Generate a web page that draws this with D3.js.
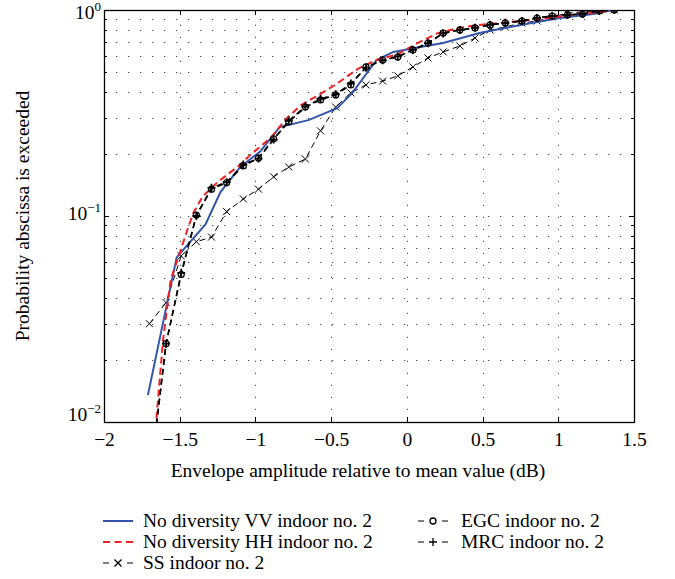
<!DOCTYPE html>
<html><head><meta charset="utf-8">
<script src="https://cdn.jsdelivr.net/npm/d3@7"></script>
<style>
body{margin:0;background:#fff}
text{font-family:"Liberation Serif","Times New Roman",serif;fill:#000}
</style>
</head><body>
<svg id="c" width="675" height="579"></svg>
<script>
// ---- data ----
const ampGrid = [-1.70,-1.59,-1.49,-1.39,-1.29,-1.19,-1.08,-0.98,-0.88,-0.78,-0.67,-0.57,-0.47,-0.37,-0.27,-0.16,-0.06,0.04,0.14,0.24,0.35,0.45,0.55,0.65,0.76,0.86,0.96,1.06,1.16,1.27,1.37];
const probSS  = [0.030,0.038,0.064,0.075,0.079,0.105,0.121,0.135,0.155,0.173,0.189,0.259,0.338,0.396,0.433,0.452,0.479,0.529,0.585,0.626,0.669,0.731,0.800,0.827,0.865,0.884,0.925,0.967,0.978,0.995,1.0];
const probEGC = [0.005,0.024,0.052,0.101,0.135,0.145,0.175,0.191,0.237,0.286,0.338,0.366,0.387,0.433,0.529,0.572,0.591,0.640,0.691,0.773,0.800,0.818,0.846,0.865,0.884,0.914,0.935,0.946,0.956,0.989,1.0];
const probMRC = [0.005,0.024,0.053,0.100,0.137,0.146,0.178,0.190,0.235,0.290,0.340,0.370,0.390,0.440,0.525,0.570,0.595,0.640,0.690,0.770,0.800,0.820,0.848,0.866,0.885,0.915,0.935,0.947,0.957,0.990,1.0];
const ampVV  = [-1.71,-1.52,-1.33,-1.23,-1.10,-0.97,-0.84,-0.65,-0.46,-0.36,-0.20,-0.09,0.09,0.24,0.48,0.75,1.01,1.23,1.36];
const probVV = [0.0135,0.063,0.091,0.131,0.173,0.205,0.270,0.292,0.334,0.396,0.572,0.626,0.661,0.691,0.773,0.846,0.915,0.956,1.0];
const ampHH  = [-1.66,-1.61,-1.56,-1.50,-1.45,-1.41,-1.35,-1.25,-1.12,-1.02,-0.90,-0.80,-0.70,-0.60,-0.48,-0.32,-0.20,-0.06,0.07,0.20,0.33,0.47,0.68,0.88,1.08,1.28,1.37];
const probHH = [0.0092,0.025,0.049,0.066,0.0855,0.1035,0.124,0.146,0.173,0.202,0.239,0.295,0.345,0.380,0.430,0.520,0.572,0.610,0.690,0.770,0.815,0.846,0.874,0.904,0.946,0.978,1.0];
const xTickValues = [-2,-1.5,-1,-0.5,0,0.5,1,1.5];
const xTickLabels = ["−2","−1.5","−1","−0.5","0","0.5","1","1.5"];
const yTickValues = [1,0.1,0.01];
const yTickExponents = ["0","−1","−2"];
const seriesNames = ["No diversity VV indoor no. 2","No diversity HH indoor no. 2","SS indoor no. 2","EGC indoor no. 2","MRC indoor no. 2"];
const xTitle = "Envelope amplitude relative to mean value (dB)";
const yTitle = "Probability abscissa is exceeded";

// ---- layout ----
const L=104, R=634, T=10, B=422;
const FS = "19.5px";
const svg = d3.select("#c");
const x = d3.scaleLinear().domain([-2,1.5]).range([L,R]);
const y = d3.scaleLog().domain([0.01,1]).range([B,T]);

const minorY = [];
for (let d=-2; d<0; d++) for (let k=1;k<=9;k++) minorY.push(k*Math.pow(10,d));
minorY.push(1);

// grid
const grid = svg.append("g").attr("stroke","#555").attr("stroke-width",1).attr("stroke-dasharray","1.3,10.7");
grid.selectAll(".gy").data(minorY.filter(v=>v>0.01 && v<1)).join("line")
  .attr("x1",L).attr("x2",R).attr("y1",d=>Math.round(y(d))+0.5).attr("y2",d=>Math.round(y(d))+0.5);
grid.selectAll(".gx").data(xTickValues.filter(v=>v>-2&&v<1.5)).join("line")
  .attr("y1",B).attr("y2",T).attr("x1",d=>Math.round(x(d))+0.5).attr("x2",d=>Math.round(x(d))+0.5);

// frame
svg.append("rect").attr("x",L+0.5).attr("y",T+0.5).attr("width",R-L).attr("height",B-T)
  .attr("fill","none").attr("stroke","#000").attr("stroke-width",1.3);

// ticks
const tk = svg.append("g").attr("stroke","#000").attr("stroke-width",1);
xTickValues.forEach(v=>{
  const px = Math.round(x(v))+0.5;
  tk.append("line").attr("x1",px).attr("x2",px).attr("y1",B).attr("y2",B-5);
  tk.append("line").attr("x1",px).attr("x2",px).attr("y1",T).attr("y2",T+5);
});
minorY.forEach(v=>{
  const py = Math.round(y(v))+0.5;
  const major = yTickValues.includes(+v.toPrecision(3));
  const len = major?5:3;
  tk.append("line").attr("x1",L).attr("x2",L+len).attr("y1",py).attr("y2",py);
  tk.append("line").attr("x1",R).attr("x2",R-len).attr("y1",py).attr("y2",py);
});

// x tick labels via axis
const xAxis = d3.axisBottom(x).tickValues(xTickValues).tickFormat((d,i)=>xTickLabels[i]).tickSize(0).tickPadding(7);
const gx = svg.append("g").attr("transform",`translate(0,${B})`).call(xAxis);
gx.select(".domain").remove();
gx.selectAll("text").style("font-family",'"Liberation Serif",serif').style("font-size",FS).attr("dy","0.85em");

// y tick labels
yTickValues.forEach((v,i)=>{
  const base = Math.min(Math.max(y(v)+4, 19), 421);
  const t = svg.append("text").attr("x",L-3).attr("y",base).attr("text-anchor","end").style("font-size",FS);
  t.append("tspan").text("10");
  t.append("tspan").attr("dy","-8").style("font-size","13px").text(yTickExponents[i]);
});

// titles
svg.append("text").attr("x",358).attr("y",477).attr("text-anchor","middle").style("font-size",FS).text(xTitle);
svg.append("text").attr("transform",`translate(29,${(T+B)/2}) rotate(-90)`).attr("text-anchor","middle").style("font-size",FS).text(yTitle);

// clip
svg.append("clipPath").attr("id","clip").append("rect").attr("x",L).attr("y",T).attr("width",R-L).attr("height",B-T);
const plot = svg.append("g").attr("clip-path","url(#clip)");
const line = d3.line().x(d=>x(d[0])).y(d=>y(d[1]));

const zip = (a,b)=>a.map((v,i)=>[v,b[i]]);
const dVV = zip(ampVV,probVV), dHH = zip(ampHH,probHH);
const dSS = zip(ampGrid,probSS), dEGC = zip(ampGrid,probEGC), dMRC = zip(ampGrid,probMRC);

function marker(g, type, cx, cy, sw){
  if(type==="o"){ g.append("circle").attr("cx",cx).attr("cy",cy).attr("r",3).attr("fill","none").attr("stroke","#000").attr("stroke-width",sw||1.2); }
  else if(type==="+"){ g.append("path").attr("d",`M${cx-4},${cy}H${cx+4}M${cx},${cy-4}V${cy+4}`).attr("stroke","#000").attr("stroke-width",sw||1.2); }
  else if(type==="x"){ g.append("path").attr("d",`M${cx-3.5},${cy-3.5}L${cx+3.5},${cy+3.5}M${cx-3.5},${cy+3.5}L${cx+3.5},${cy-3.5}`).attr("stroke","#000").attr("stroke-width",sw||1); }
}

// SS
plot.append("path").datum(dSS).attr("d",line).attr("fill","none").attr("stroke","#000").attr("stroke-width",1).attr("stroke-dasharray","6,4");
const mSS = plot.append("g"); dSS.forEach(d=>marker(mSS,"x",x(d[0]),y(d[1])));
// VV
plot.append("path").datum(dVV).attr("d",line).attr("fill","none").attr("stroke","#3355aa").attr("stroke-width",2);
// HH
plot.append("path").datum(dHH).attr("d",line).attr("fill","none").attr("stroke","#ee2222").attr("stroke-width",2).attr("stroke-dasharray","7,4");
// EGC
plot.append("path").datum(dEGC).attr("d",line).attr("fill","none").attr("stroke","#000").attr("stroke-width",1.5).attr("stroke-dasharray","6,4");
const mEGC = plot.append("g"); dEGC.forEach(d=>marker(mEGC,"o",x(d[0]),y(d[1])));
// MRC
plot.append("path").datum(dMRC).attr("d",line).attr("fill","none").attr("stroke","#000").attr("stroke-width",1.5).attr("stroke-dasharray","6,4");
const mMRC = plot.append("g"); dMRC.forEach(d=>marker(mMRC,"+",x(d[0]),y(d[1]),1.8));

// legend
const leg = svg.append("g");
const items = [
  {n:0, x:103, y:521, stroke:"#3355aa", dash:null, w:2, m:null},
  {n:1, x:103, y:542, stroke:"#ee2222", dash:"7,4.5", w:2, m:null},
  {n:2, x:103, y:563, stroke:"#000", dash:"6,18", w:1.2, m:"x"},
  {n:3, x:418, y:521, stroke:"#000", dash:"6,18", w:1.2, m:"o"},
  {n:4, x:418, y:542, stroke:"#000", dash:"6,18", w:1.2, m:"+"}
];
items.forEach(it=>{
  const ln = leg.append("line").attr("x1",it.x).attr("x2",it.x+30).attr("y1",it.y).attr("y2",it.y)
    .attr("stroke",it.stroke).attr("stroke-width",it.w);
  if(it.dash) ln.attr("stroke-dasharray",it.dash);
  if(it.m) marker(leg,it.m,it.x+15,it.y,1.3);
  leg.append("text").attr("x",it.x+40+(it.x>400?3:0)).attr("y",it.y+6).style("font-size",FS).text(seriesNames[it.n]);
});
</script>
</body></html>
